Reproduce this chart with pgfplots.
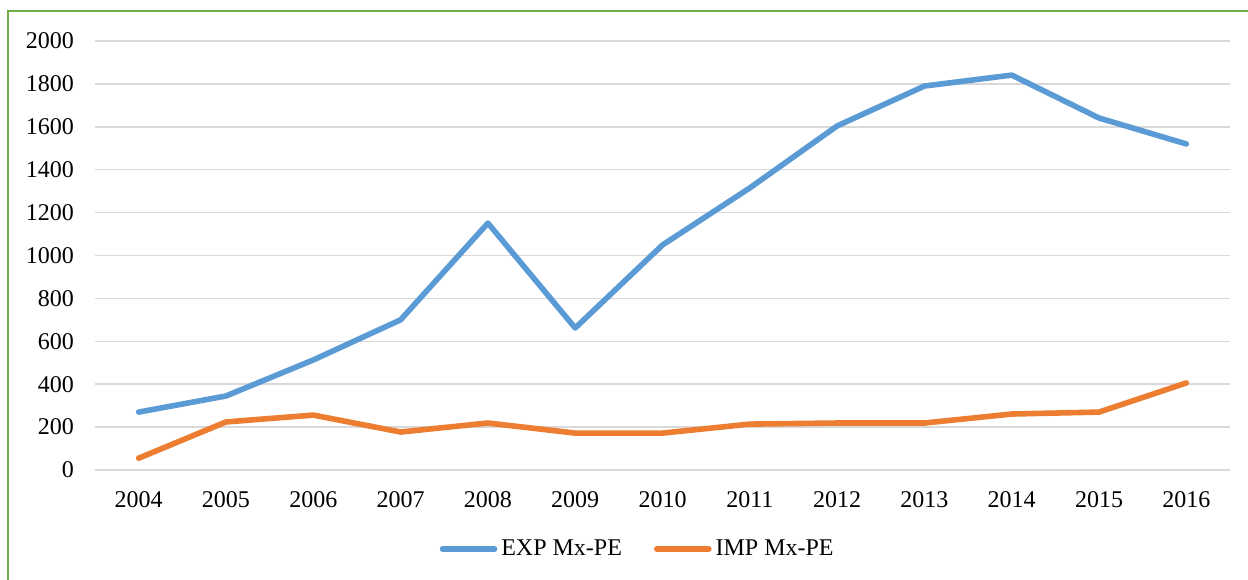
\documentclass[border=0pt]{standalone}
\usepackage{pgfplots}
\pgfplotsset{compat=1.18}
\usepackage{fontspec}
\setmainfont{Liberation Serif}
\definecolor{expblue}{HTML}{5B9BD5}
\definecolor{imporange}{HTML}{ED7D31}
\definecolor{gridgray}{RGB}{217,217,217}
\definecolor{framegreen}{HTML}{70AD47}
\begin{document}
\begin{tikzpicture}
\useasboundingbox (0pt,0pt) rectangle (624pt,289.5pt);
\draw[framegreen,line width=0.8pt] (4pt,-5pt) -- (4pt,284pt) -- (630pt,284pt);
\begin{axis}[
  at={(47.5pt,54.5pt)}, anchor=south west,
  scale only axis, width=567.5pt, height=214.5pt,
  xmin=-0.5, xmax=12.5, ymin=0, ymax=2000,
  xtick={0,...,12},
  xticklabels={2004,2005,2006,2007,2008,2009,2010,2011,2012,2013,2014,2015,2016},
  ytick={0,200,...,2000},
  ymajorgrids, major grid style={gridgray,line width=0.75pt},
  axis line style={draw=none}, tick style={draw=none},
  yticklabel style={xshift=-7pt},
  xticklabel style={yshift=-7pt},
  tick label style={font=\fontsize{12}{14}\selectfont},
  /pgf/number format/assume math mode=true,
  yticklabel={\pgfmathprintnumber[fixed,1000 sep={}]{\tick}},
  legend style={at={(0.479,-0.184)},anchor=center,draw=none,legend columns=2,
    font=\fontsize{12}{14}\selectfont,
    /tikz/every even column/.append style={column sep=14pt}},
  legend image code/.code={\draw[#1,line cap=round] (0pt,0pt) -- (26pt,0pt);},
  legend cell align=left,
  clip=false,
]
\addplot[expblue,line width=2.8pt,line join=round,line cap=round] coordinates {
(0,270) (1,345) (2,513) (3,700) (4,1151) (5,662) (6,1049) (7,1315) (8,1604) (9,1790) (10,1841) (11,1641) (12,1520)};
\addlegendentry{EXP Mx-PE}
\addplot[imporange,line width=2.8pt,line join=round,line cap=round] coordinates {
(0,55) (1,224) (2,256) (3,177) (4,219) (5,172) (6,172) (7,214) (8,219) (9,219) (10,261) (11,270) (12,406)};
\addlegendentry{IMP Mx-PE}
\end{axis}
\end{tikzpicture}
\end{document}
